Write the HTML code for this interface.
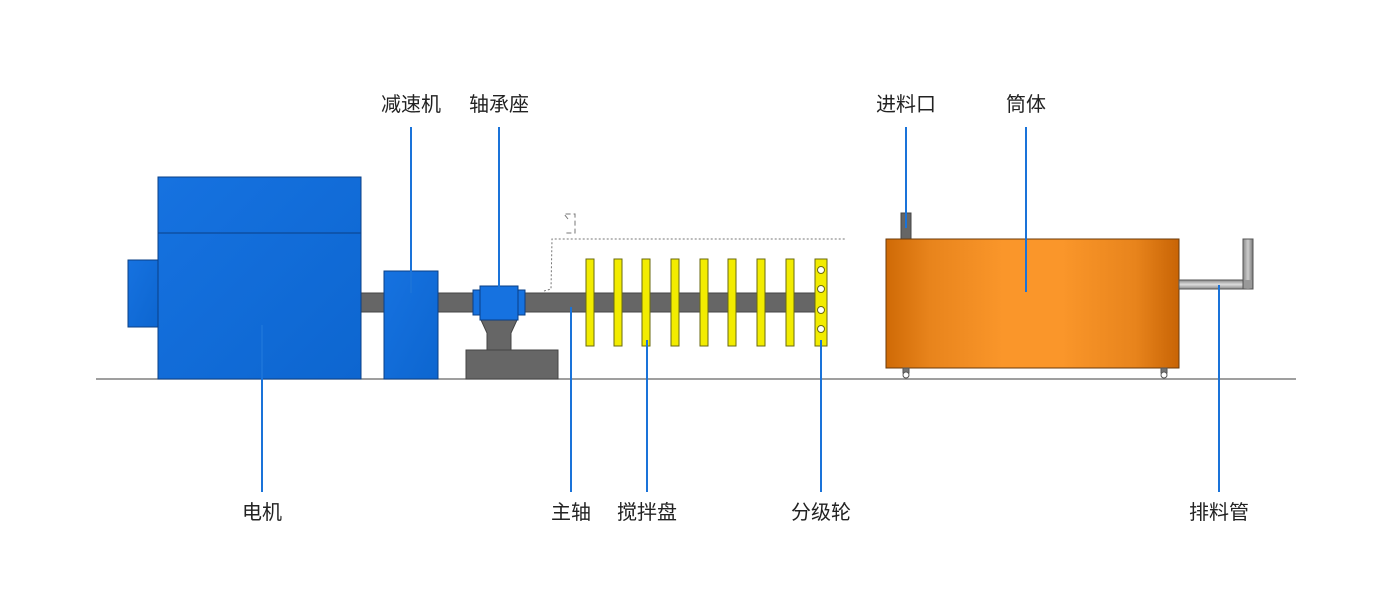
<!DOCTYPE html>
<html><head><meta charset="utf-8"><style>
body{margin:0;background:#fff}
.t{position:absolute;font:20px "Liberation Sans","Noto Sans CJK SC",sans-serif;color:#222;transform:translateX(-50%);white-space:nowrap;line-height:24px}
</style></head><body>
<div style="position:relative;width:1400px;height:600px;overflow:hidden">
<svg width="1400" height="600" style="position:absolute;left:0;top:0">
<defs>
<linearGradient id="bl" x1="0" y1="0" x2="1" y2="1"><stop offset="0" stop-color="#1672e0"/><stop offset="1" stop-color="#0d66d0"/></linearGradient>
<linearGradient id="or" x1="0" x2="1"><stop offset="0" stop-color="#cf6a06"/><stop offset=".15" stop-color="#e8841c"/><stop offset=".4" stop-color="#fa962a"/><stop offset=".6" stop-color="#fa962a"/><stop offset=".85" stop-color="#e8841c"/><stop offset="1" stop-color="#c86405"/></linearGradient>
<linearGradient id="gp" x1="0" y1="0" x2="0" y2="1"><stop offset="0" stop-color="#888"/><stop offset=".5" stop-color="#ddd"/><stop offset="1" stop-color="#888"/></linearGradient>
<linearGradient id="gv" x1="0" x2="1"><stop offset="0" stop-color="#888"/><stop offset=".5" stop-color="#ccc"/><stop offset="1" stop-color="#777"/></linearGradient>
</defs>
<line x1="96" y1="379" x2="1296" y2="379" stroke="#666" stroke-width="1.2"/>
<rect x="361" y="293" width="464" height="19" fill="#666" stroke="#444"/>
<rect x="128" y="260" width="30" height="67" fill="url(#bl)" stroke="#0a3f86"/>
<rect x="158" y="177" width="203" height="202" fill="url(#bl)" stroke="#0a3f86"/>
<line x1="158" y1="233" x2="361" y2="233" stroke="#0a3f86"/>
<rect x="384" y="271" width="54" height="108" fill="url(#bl)" stroke="#0a3f86"/>
<rect x="466" y="350" width="92" height="29" fill="#666" stroke="#444"/>
<polygon points="481,320 517,320 511,333 511,350 487,350 487,333" fill="#666" stroke="#444"/>
<rect x="473" y="290" width="52" height="25" fill="#1672e0" stroke="#0a3f86"/>
<rect x="480" y="286" width="38" height="34" fill="#1672e0" stroke="#0a3f86"/>
<polyline points="544,291 551,289 552,239 845,239" fill="none" stroke="#777" stroke-dasharray="2,2"/>
<polyline points="568,219 564,214 575,214 575,233 564,233" fill="none" stroke="#777" stroke-dasharray="5,3"/>
<g fill="#f2ec00" stroke="#6a6a10">
<rect x="586" y="259" width="8" height="87"/><rect x="614" y="259" width="8" height="87"/>
<rect x="642" y="259" width="8" height="87"/><rect x="671" y="259" width="8" height="87"/>
<rect x="700" y="259" width="8" height="87"/><rect x="728" y="259" width="8" height="87"/>
<rect x="757" y="259" width="8" height="87"/><rect x="786" y="259" width="8" height="87"/>
<rect x="815" y="259" width="12" height="87"/>
</g>
<g fill="#fff" stroke="#6a6a10"><circle cx="821" cy="270" r="3.5"/><circle cx="821" cy="289" r="3.5"/><circle cx="821" cy="310" r="3.5"/><circle cx="821" cy="329" r="3.5"/></g>
<rect x="901" y="213" width="10" height="26" fill="#666" stroke="#444"/>
<rect x="886" y="239" width="293" height="129" fill="url(#or)" stroke="#6b3a0a"/>
<rect x="1179" y="280" width="74" height="9" fill="url(#gp)" stroke="#555"/>
<rect x="1243" y="239" width="10" height="50" fill="url(#gv)" stroke="#555"/>
<rect x="1244" y="280" width="8" height="8" fill="#999"/>
<g fill="#fff" stroke="#555"><rect x="903" y="368" width="6" height="5" fill="#777"/><circle cx="906" cy="375" r="3"/><rect x="1161" y="368" width="6" height="5" fill="#777"/><circle cx="1164" cy="375" r="3"/></g>
<g stroke="#1a73d9" stroke-width="2">
<line x1="411" y1="127" x2="411" y2="293"/><line x1="499" y1="127" x2="499" y2="290"/>
<line x1="906" y1="127" x2="906" y2="228"/><line x1="1026" y1="127" x2="1026" y2="292"/>
<line x1="262" y1="325" x2="262" y2="492"/><line x1="571" y1="307" x2="571" y2="492"/>
<line x1="647" y1="340" x2="647" y2="492"/><line x1="821" y1="340" x2="821" y2="492"/>
<line x1="1219" y1="285" x2="1219" y2="492"/>
</g>
</svg>
<div class="t" style="left:411px;top:93px">减速机</div>
<div class="t" style="left:499px;top:93px">轴承座</div>
<div class="t" style="left:906px;top:93px">进料口</div>
<div class="t" style="left:1026px;top:93px">筒体</div>
<div class="t" style="left:262px;top:501px">电机</div>
<div class="t" style="left:571px;top:501px">主轴</div>
<div class="t" style="left:647px;top:501px">搅拌盘</div>
<div class="t" style="left:821px;top:501px">分级轮</div>
<div class="t" style="left:1219px;top:501px">排料管</div>
</div>
</body></html>
